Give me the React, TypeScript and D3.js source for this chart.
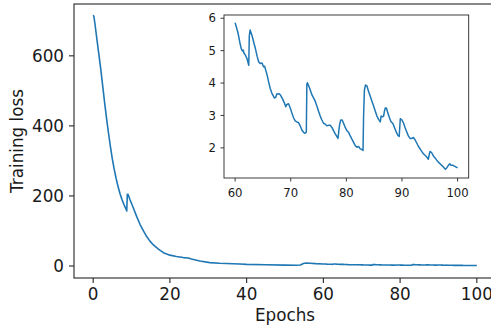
import React from "react";
import * as d3 from "d3";

// Main curve, epochs 0..58
const earlyEpochs = [0, 0.2, 0.5, 1, 1.5, 2, 2.5, 3, 3.5, 4, 4.5, 5, 5.5, 6, 6.5, 7, 7.5, 8, 8.5, 8.75, 8.9, 9.1, 9.6, 10.5, 11.35, 12.2, 13.1, 13.95, 14.8, 15.7, 17.0, 18.3, 20, 21.7, 23.5, 24.8, 25.6, 27.8, 30.4, 33, 38.2, 40, 45, 50, 53, 54, 54.8, 55.5, 56.5, 58];
const earlyLoss = [716, 712, 688, 645, 603, 560, 512, 465, 420, 379, 340, 305, 275, 249, 226, 206, 190, 176, 164, 157, 205, 204, 189, 165, 141, 119, 100, 84, 71, 60, 48, 38, 31, 27, 24, 23, 20, 14, 9.5, 7.6, 5.7, 4.7, 3.5, 2.5, 2.0, 2.6, 7.0, 8.3, 7.9, 6.8];

// Late curve, epochs 60..100 (also the inset)
const lateEpochs = [60.0, 60.5, 60.84, 61.1, 61.3, 61.45, 61.6, 61.85, 62.15, 62.45, 62.55, 62.7, 63.05, 63.35, 63.65, 63.95, 64.25, 64.55, 64.84, 65.1, 65.3, 65.5, 65.75, 66.0, 66.3, 66.6, 67.05, 67.3, 67.5, 67.9, 68.1, 68.5, 68.85, 69.1, 69.3, 69.6, 69.9, 70.2, 70.5, 70.8, 71.1, 71.4, 71.7, 72.0, 72.3, 72.6, 72.8, 72.9, 73.0, 73.4, 73.8, 74.1, 74.4, 74.7, 75.0, 75.3, 75.6, 75.9, 76.2, 76.5, 76.8, 77.1, 77.4, 77.7, 78.0, 78.3, 78.5, 78.65, 78.8, 79.0, 79.25, 79.5, 79.8, 80.1, 80.4, 80.7, 81.0, 81.3, 81.6, 81.9, 82.2, 82.5, 82.8, 83.0, 83.1, 83.25, 83.45, 83.7, 84.0, 84.3, 84.6, 84.9, 85.2, 85.5, 85.8, 86.1, 86.25, 86.5, 86.7, 86.85, 87.0, 87.2, 87.45, 87.75, 88.05, 88.35, 88.65, 88.95, 89.25, 89.5, 89.7, 90.0, 90.3, 90.55, 90.85, 91.15, 91.45, 91.75, 92.05, 92.35, 92.65, 92.95, 93.25, 93.55, 93.85, 94.15, 94.45, 94.75, 94.9, 95.05, 95.35, 95.65, 95.95, 96.25, 96.55, 96.85, 97.15, 97.45, 97.8, 98.05, 98.35, 98.6, 98.8, 99.2, 99.5, 100];
const lateLoss = [5.86, 5.56, 5.26, 5.06, 4.99, 5.02, 4.92, 4.86, 4.75, 4.55, 5.45, 5.64, 5.46, 5.26, 5.06, 4.83, 4.65, 4.6, 4.62, 4.5, 4.52, 4.4, 4.25, 4.05, 3.84, 3.69, 3.54, 3.56, 3.66, 3.67, 3.64, 3.52, 3.39, 3.27, 3.34, 3.36, 3.24, 3.08, 2.93, 2.83, 2.8, 2.78, 2.68, 2.55, 2.48, 2.45, 2.48, 3.97, 4.01, 3.84, 3.64, 3.54, 3.44, 3.29, 3.13, 2.98, 2.86, 2.76, 2.73, 2.68, 2.7, 2.7, 2.63, 2.53, 2.43, 2.35, 2.29, 2.53, 2.73, 2.86, 2.86, 2.76, 2.63, 2.53, 2.48, 2.37, 2.27, 2.17, 2.07, 2.02, 2.04, 1.97, 1.95, 1.92, 2.98, 3.79, 3.94, 3.91, 3.74, 3.59, 3.44, 3.29, 3.13, 2.98, 2.88, 2.8, 2.98, 2.96, 2.98, 3.13, 3.23, 3.23, 3.08, 2.93, 2.8, 2.76, 2.63, 2.5, 2.39, 2.35, 2.9, 2.86, 2.76, 2.63, 2.5, 2.37, 2.29, 2.29, 2.32, 2.25, 2.15, 2.05, 1.97, 1.89, 1.82, 1.77, 1.72, 1.65, 1.79, 1.89, 1.85, 1.75, 1.69, 1.62, 1.56, 1.51, 1.46, 1.41, 1.34, 1.38, 1.46, 1.51, 1.46, 1.46, 1.43, 1.38];

const mainXTicks = [0, 20, 40, 60, 80, 100];
const mainYTicks = [0, 200, 400, 600];
const insetXTicks = [60, 70, 80, 90, 100];
const insetYTicks = [2, 3, 4, 5, 6];

const xLabel = "Epochs";
const yLabel = "Training loss";

const BLUE = "#1f77b4";
const FONT = "DejaVu Sans";

type P = [number, number];

export default function App() {
  const W = 491, H = 331;
  const mainPts: P[] = [
    ...earlyEpochs.map((e, i) => [e, earlyLoss[i]] as P),
    ...lateEpochs.map((e, i) => [e, lateLoss[i]] as P),
  ];
  const insetPts: P[] = lateEpochs.map((e, i) => [e, lateLoss[i]] as P);

  const mL = 74, mR = 496, mT = 4, mB = 278;
  const x = d3.scaleLinear().domain([-5, 105]).range([mL, mR]);
  const y = d3.scaleLinear().domain([-34.3, 748]).range([mB, mT]);

  const iL = 224, iR = 468.7, iT = 15, iB = 178;
  const ix = d3.scaleLinear().domain([58, 102]).range([iL, iR]);
  const iy = d3.scaleLinear().domain([1.07, 6.1]).range([iB, iT]);

  const mainLine = d3.line<P>().x(d => x(d[0])).y(d => y(d[1]))(mainPts) || "";
  const insetLine = d3.line<P>().x(d => ix(d[0])).y(d => iy(d[1]))(insetPts) || "";

  const spine = "#262626";

  return (
    <svg width={W} height={H} style={{ position: "absolute", left: 0, top: 0, background: "#fff" }} fontFamily={FONT}>
      <rect x={0} y={0} width={W} height={H} fill="#fff" />
      {/* main axes */}
      <path d={mainLine} fill="none" stroke={BLUE} strokeWidth={1.6} strokeLinejoin="round" />
      <rect x={mL} y={mT} width={mR - mL} height={mB - mT} fill="none" stroke={spine} strokeWidth={1.1} />
      {mainXTicks.map(t => (
        <g key={"mx" + t}>
          <line x1={x(t)} x2={x(t)} y1={mB} y2={mB + 5} stroke={spine} strokeWidth={1.1} />
          <text x={x(t)} y={300} textAnchor="middle" fontSize={16.8} fill="#1a1a1a">{t}</text>
        </g>
      ))}
      {mainYTicks.map(t => (
        <g key={"my" + t}>
          <line x1={mL - 5} x2={mL} y1={y(t)} y2={y(t)} stroke={spine} strokeWidth={1.1} />
          <text x={64} y={y(t)} dy="0.36em" textAnchor="end" fontSize={16.8} fill="#1a1a1a">{t}</text>
        </g>
      ))}
      <text x={(mL + mR) / 2} y={321} textAnchor="middle" fontSize={16.8} fill="#1a1a1a">{xLabel}</text>
      <text transform={`translate(23,${(mT + mB) / 2}) rotate(-90)`} textAnchor="middle" fontSize={16.8} fill="#1a1a1a">{yLabel}</text>

      {/* inset axes */}
      <rect x={iL} y={iT} width={iR - iL} height={iB - iT} fill="#fff" />
      <path d={insetLine} fill="none" stroke={BLUE} strokeWidth={1.5} strokeLinejoin="round" />
      <rect x={iL} y={iT} width={iR - iL} height={iB - iT} fill="none" stroke={spine} strokeWidth={0.9} />
      {insetXTicks.map(t => (
        <g key={"ix" + t}>
          <line x1={ix(t)} x2={ix(t)} y1={iB} y2={iB + 3.5} stroke={spine} strokeWidth={0.9} />
          <text x={ix(t)} y={197} textAnchor="middle" fontSize={11.7} fill="#1a1a1a">{t}</text>
        </g>
      ))}
      {insetYTicks.map(t => (
        <g key={"iy" + t}>
          <line x1={iL - 3.5} x2={iL} y1={iy(t)} y2={iy(t)} stroke={spine} strokeWidth={0.9} />
          <text x={216} y={iy(t)} dy="0.36em" textAnchor="end" fontSize={11.7} fill="#1a1a1a">{t}</text>
        </g>
      ))}
    </svg>
  );
}
